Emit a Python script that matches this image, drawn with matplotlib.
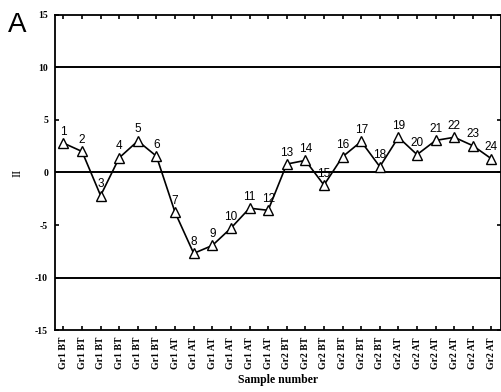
import matplotlib.pyplot as plt

# LI per sample, groups before (BT) and after (AT) treatment
samples = list(range(1, 25))
li = [2.8, 2.0, -2.2, 1.4, 3.0, 1.55, -3.8, -7.7, -6.95, -5.3, -3.4, -3.6,
      0.8, 1.15, -1.2, 1.5, 2.95, 0.55, 3.35, 1.7, 3.05, 3.35, 2.55, 1.3]
groups = ["Gr1 BT"] * 6 + ["Gr1 AT"] * 6 + ["Gr2 BT"] * 6 + ["Gr2 AT"] * 6
yticks = [-15, -10, -5, 0, 5, 10, 15]
reflines = [-10, 0, 10]

fig = plt.figure(figsize=(5.02, 3.92), dpi=100)
ax = fig.add_axes([0.1096, 0.158, 0.888, 0.804])

for yv in reflines:
    ax.axhline(yv, color="black", lw=1.4, zorder=1)

ax.plot(samples, li, color="black", lw=1.2, marker="^", markersize=6.5,
        markerfacecolor="white", markeredgecolor="black", markeredgewidth=1.0,
        zorder=3)

for s, v in zip(samples, li):
    ax.annotate(str(s), xy=(s, v), xytext=(0, 4), textcoords="offset points",
                ha="center", va="bottom", fontsize=8.5,
                family="Liberation Sans", zorder=4)

ax.set_xlim(0.55, 24.5)
ax.set_ylim(-15, 15)
ax.set_xticks(samples)
ax.set_xticklabels(groups, rotation=90, fontsize=7,
                   family="Liberation Serif", fontweight="bold")
ax.set_yticks(yticks)
ax.set_yticklabels([str(t) for t in yticks], fontsize=7,
                   family="Liberation Serif", fontweight="bold")
ax.tick_params(direction="in", length=3, width=1.2, top=True, right=True,
               pad=5)
for spine in ax.spines.values():
    spine.set_linewidth(1.3)

ax.set_xlabel("Sample number", fontsize=8.5, family="Liberation Serif",
              fontweight="bold", labelpad=3)
ax.set_ylabel("II", fontsize=9, family="Liberation Serif")
ax.yaxis.set_label_coords(-0.07, 0.5)

fig.text(0.015, 0.97, "A", fontsize=20, family="Liberation Sans",
         va="top", ha="left")

plt.savefig("out.png", dpi=100)
